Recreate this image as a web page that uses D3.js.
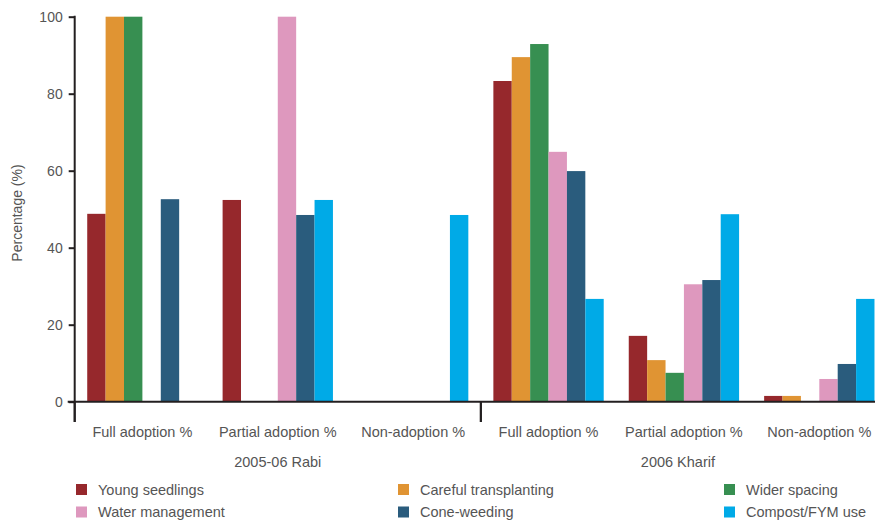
<!DOCTYPE html>
<html>
<head>
<meta charset="utf-8">
<script src="https://cdn.jsdelivr.net/npm/d3@7"></script>
<style>
  body { margin: 0; background: #fff; }
  text { font-family: "Liberation Sans", Arial, sans-serif; fill: #555; }
</style>
</head>
<body>
<svg id="chart" width="875" height="522"></svg>
<script>
const seasons = ["2005-06 Rabi", "2006 Kharif"];
const groups = ["Full adoption %", "Partial adoption %", "Non-adoption %"];
const series = ["Young seedlings", "Careful transplanting", "Wider spacing", "Water management", "Cone-weeding", "Compost/FYM use"];
const colors = ["#96282C", "#E09433", "#378F51", "#DE98BE", "#2A5C7D", "#00AAE7"];
// values[group][series]
const rabiValues = [
  [48.8, 100, 100, 0, 52.6, 0],
  [52.4, 0, 0, 100, 48.5, 52.4],
  [0, 0, 0, 0, 0, 48.5]
];
const kharifValues = [
  [83.3, 89.5, 92.9, 64.9, 59.9, 26.7],
  [17.1, 10.8, 7.5, 30.5, 31.6, 48.7],
  [1.5, 1.5, 0, 5.9, 9.8, 26.7]
];
const yTicks = [0, 20, 40, 60, 80, 100];

const svg = d3.select("#chart");
const W = 875;
const mLeft = 74.7, mRight = 887, mBottom = 401.7, mTop = 16.7;

const cats = [];
seasons.forEach((s, si) => groups.forEach((g, gi) => cats.push({ key: si + "|" + gi, season: s, group: g, values: (si === 0 ? rabiValues : kharifValues)[gi] })));

const x0 = d3.scaleBand().domain(cats.map(d => d.key)).range([mLeft, mRight]).paddingInner(0.185).paddingOuter(0.0925);
const x1 = d3.scaleBand().domain(series).range([0, x0.bandwidth()]);
const y = d3.scaleLinear().domain([0, 100]).range([mBottom, mTop]);
const xs = d3.scaleBand().domain(seasons).range([mLeft, mRight]);

// bars
const gBars = svg.append("g");
cats.forEach(c => {
  gBars.append("g").attr("transform", `translate(${x0(c.key)},0)`)
    .selectAll("rect").data(c.values.map((v, i) => ({ v, i })).filter(d => d.v > 0))
    .join("rect")
    .attr("x", d => x1(series[d.i]))
    .attr("width", x1.bandwidth())
    .attr("y", d => y(d.v))
    .attr("height", d => y(0) - y(d.v))
    .attr("fill", d => colors[d.i]);
});

// y axis
const yAxis = svg.append("g").attr("transform", `translate(${mLeft},0)`)
  .call(d3.axisLeft(y).tickValues(yTicks).tickSize(6).tickPadding(6));
yAxis.select(".domain").remove();
yAxis.selectAll(".tick line").attr("stroke", "#231f20").attr("stroke-width", 2);
yAxis.selectAll(".tick text").style("font-size", "14px").attr("fill", "#555");
svg.append("line").attr("x1", mLeft).attr("x2", mLeft).attr("y1", mTop - 1).attr("y2", 422)
  .attr("stroke", "#231f20").attr("stroke-width", 2);

// x axis baseline
svg.append("line").attr("x1", mLeft - 7).attr("x2", mRight).attr("y1", mBottom).attr("y2", mBottom)
  .attr("stroke", "#231f20").attr("stroke-width", 2);
// season separators
seasons.forEach(s => {
  [xs(s), xs(s) + xs.bandwidth()].forEach(xv => {
    svg.append("line").attr("x1", xv).attr("x2", xv).attr("y1", mBottom).attr("y2", 422)
      .attr("stroke", "#231f20").attr("stroke-width", 2);
  });
});

// group labels
cats.forEach(c => {
  svg.append("text").attr("x", x0(c.key) + x0.bandwidth() / 2).attr("y", 437)
    .attr("text-anchor", "middle").style("font-size", "14.5px").text(c.group);
});
seasons.forEach(s => {
  const a = xs(s), b = Math.min(xs(s) + xs.bandwidth(), W);
  svg.append("text").attr("x", (a + b) / 2).attr("y", 467)
    .attr("text-anchor", "middle").style("font-size", "14.5px").text(s);
});

// y label
svg.append("text").attr("transform", `translate(22,213) rotate(-90)`)
  .attr("text-anchor", "middle").style("font-size", "14px").text("Percentage (%)");

// legend
const legX = [76, 398, 724];
series.forEach((s, i) => {
  const col = i % 3, row = Math.floor(i / 3);
  const lg = svg.append("g").attr("transform", `translate(${legX[col]},${484 + row * 22.5})`);
  lg.append("rect").attr("width", 11).attr("height", 11).attr("fill", colors[i]);
  lg.append("text").attr("x", 22).attr("y", 10.5).style("font-size", "14.5px").text(s);
});
</script>
</body>
</html>
